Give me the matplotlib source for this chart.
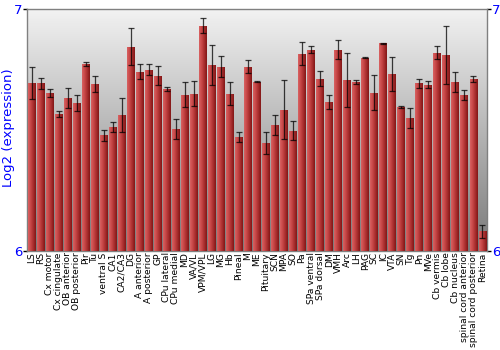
import numpy as np
import matplotlib
matplotlib.use("Agg")
import matplotlib.pyplot as plt
from matplotlib.colors import LinearSegmentedColormap

regions = ["LS", "RS", "Cx motor", "Cx cingulate", "OB anterior", "OB posterior",
           "Pir", "Tu", "ventral S", "CA1", "CA2/CA3", "DG", "A anterior",
           "A posterior", "GP", "CPu lateral", "CPu medial", "MD", "VA/VL",
           "VPM/VPL", "LG", "MG", "Hb", "Pineal", "M", "ME", "Pituitary", "SCN",
           "MPA", "SO", "Pa", "SPa ventral", "SPa dorsal", "DM", "VMH", "Arc",
           "LH", "PAG", "SC", "IC", "VTA", "SN", "Tg", "Pn", "MVe", "Cb vermis",
           "Cb lobe", "Cb nucleus", "spinal cord anterior",
           "spinal cord posterior", "Retina"]

expression = [6.694, 6.694, 6.653, 6.566, 6.632, 6.612, 6.773, 6.691, 6.478,
              6.511, 6.563, 6.844, 6.741, 6.750, 6.724, 6.668, 6.504, 6.646,
              6.650, 6.931, 6.769, 6.762, 6.650, 6.470, 6.762, 6.700, 6.446,
              6.522, 6.584, 6.497, 6.815, 6.832, 6.713, 6.616, 6.832, 6.707,
              6.697, 6.799, 6.655, 6.858, 6.733, 6.596, 6.550, 6.694, 6.687,
              6.819, 6.811, 6.700, 6.645, 6.712, 6.081]

errors = [0.065, 0.023, 0.018, 0.011, 0.042, 0.032, 0.008, 0.032, 0.024,
          0.021, 0.070, 0.077, 0.030, 0.024, 0.039, 0.008, 0.041, 0.051,
          0.051, 0.031, 0.081, 0.043, 0.048, 0.021, 0.027, 0.002, 0.045,
          0.041, 0.123, 0.039, 0.047, 0.015, 0.032, 0.027, 0.039, 0.112,
          0.008, 0.002, 0.073, 0.002, 0.070, 0.005, 0.043, 0.019, 0.015,
          0.027, 0.121, 0.041, 0.022, 0.013, 0.027]

ymin, ymax = 6, 7

fig = plt.figure(figsize=(5, 3.5), dpi=100)
ax = fig.add_axes([0.054, 0.283, 0.920, 0.691])

x = np.arange(len(regions))
ax.set_xlim(-0.5, len(regions) - 0.5)
ax.set_ylim(ymin, ymax)

# grey background gradient, light at top
bg = LinearSegmentedColormap.from_list("bg", ["#7a7a7a", "#f2f2f2"])
grad = np.linspace(0, 1, 256).reshape(-1, 1)
ax.imshow(grad, cmap=bg, aspect="auto", origin="lower",
          extent=[-0.5, len(regions) - 0.5, ymin, ymax], zorder=0)

bars = ax.bar(x, np.array(expression) - ymin, bottom=ymin, width=0.88,
              color="#b83a3a", edgecolor="none", zorder=2)

# horizontal shading on each bar
barmap = LinearSegmentedColormap.from_list(
    "bar", ["#d86262", "#c84848", "#a82e2e", "#821616"])
hgrad = np.linspace(0, 1, 64).reshape(1, -1)
for b in bars:
    im = ax.imshow(hgrad, cmap=barmap, aspect="auto",
                   extent=[b.get_x(), b.get_x() + b.get_width(),
                           ymin, b.get_y() + b.get_height()], zorder=3)
    im.set_clip_path(b)

ax.errorbar(x, expression, yerr=errors, fmt="none", ecolor="black",
            elinewidth=0.9, capsize=2.5, capthick=0.9, alpha=0.75, zorder=4)

ax.set_xticks(x)
ax.set_xticklabels(regions, rotation=90, fontsize=6.6)
ax.tick_params(axis="x", length=0, pad=1)

ax.set_yticks([6, 7])
ax.set_yticklabels(["6", "7"], color="blue", fontsize=9.5)
ax.tick_params(axis="y", length=3, width=1, pad=0.5, left=True, right=True,
               labelleft=True, labelright=True)
ax.set_ylabel("Log2 (expression)", color="blue", fontsize=9.5)
ax.yaxis.set_label_coords(-0.025, 0.51)

for s in ax.spines.values():
    s.set_color("#808080")
    s.set_linewidth(1)

fig.savefig("out.png", dpi=100)
